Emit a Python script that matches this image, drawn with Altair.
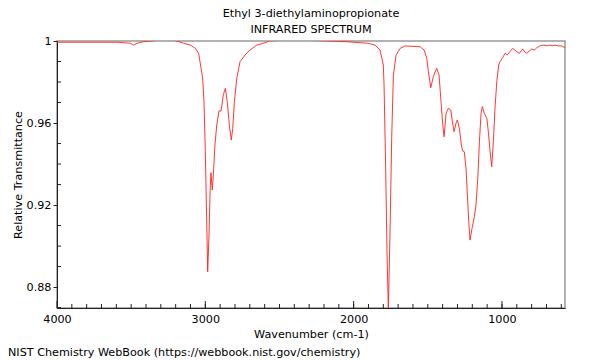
import altair as alt
import pandas as pd

# Spectrum values (wavenumber cm-1, relative transmittance)
wavenumber = [4000, 3865, 3730, 3595, 3506, 3483, 3461, 3415, 3348, 3303, 3236, 3191, 3146, 3101,
              3067, 3045, 3036, 3018, 3009, 3000, 2991, 2984, 2975, 2968, 2962, 2953, 2946, 2935,
              2923, 2908, 2894, 2879, 2865, 2852, 2838, 2825, 2815, 2804, 2788, 2766, 2732, 2699,
              2653, 2586, 2575, 2442, 2215, 2058, 1903, 1856, 1822, 1800, 1795, 1784, 1775, 1766,
              1755, 1743, 1732, 1714, 1687, 1653, 1552, 1525, 1507, 1496, 1480, 1463, 1440, 1424,
              1411, 1399, 1390, 1377, 1361, 1345, 1334, 1323, 1310, 1301, 1287, 1274, 1264, 1254,
              1242, 1233, 1224, 1215, 1202, 1186, 1175, 1163, 1152, 1141, 1132, 1119, 1102, 1092,
              1080, 1069, 1058, 1047, 1035, 1022, 1013, 995, 979, 964, 950, 927, 905, 883, 860,
              844, 832, 815, 799, 781, 765, 743, 721, 694, 676, 658, 642, 620, 597, 575]
transmittance = [0.9994, 0.9994, 0.9994, 0.9994, 0.9989, 0.9980, 0.9989, 0.9997, 1.0001, 1.0005,
                 1.0005, 1.0000, 0.9989, 0.9980, 0.9964, 0.9940, 0.9899, 0.9820, 0.9704, 0.9460,
                 0.9137, 0.8875, 0.9054, 0.9265, 0.9358, 0.9273, 0.9346, 0.9493, 0.9590, 0.9659,
                 0.9659, 0.9737, 0.9769, 0.9704, 0.9590, 0.9517, 0.9574, 0.9704, 0.9818, 0.9899,
                 0.9932, 0.9956, 0.9980, 0.9994, 1.0000, 1.0005, 1.0001, 0.9997, 0.9989, 0.9980,
                 0.9956, 0.9883, 0.9785, 0.9380, 0.8971, 0.8688, 0.9054, 0.9541, 0.9834, 0.9932,
                 0.9964, 0.9976, 0.9972, 0.9956, 0.9916, 0.9850, 0.9772, 0.9826, 0.9867, 0.9834,
                 0.9704, 0.9590, 0.9533, 0.9647, 0.9672, 0.9663, 0.9606, 0.9558, 0.9599, 0.9615,
                 0.9574, 0.9493, 0.9463, 0.9460, 0.9379, 0.9249, 0.9119, 0.9029, 0.9086, 0.9143,
                 0.9200, 0.9330, 0.9509, 0.9647, 0.9680, 0.9647, 0.9623, 0.9558, 0.9460, 0.9387,
                 0.9509, 0.9672, 0.9801, 0.9883, 0.9899, 0.9919, 0.9940, 0.9932, 0.9945, 0.9964,
                 0.9951, 0.9940, 0.9961, 0.9945, 0.9940, 0.9951, 0.9961, 0.9956, 0.9967, 0.9977,
                 0.9980, 0.9977, 0.9980, 0.9977, 0.9980, 0.9976, 0.9976, 0.9967]

x_major = [4000, 3000, 2000, 1000]
x_minor = list(range(3900, 575, -100))
y_major = [0.88, 0.92, 0.96, 1.0]
y_minor = [0.87, 0.89, 0.90, 0.91, 0.93, 0.94, 0.95, 0.97, 0.98, 0.99]

title_lines = ["Ethyl 3-diethylaminopropionate", "INFRARED SPECTRUM"]
x_title = "Wavenumber (cm-1)"
y_title = "Relative Transmittance"
footer = "NIST Chemistry WebBook (https://webbook.nist.gov/chemistry)"

X_DOMAIN = [4000, 575]
Y_DOMAIN = [0.8698, 1.0]
W, H = 508, 267
FONT = "DejaVu Sans"
FS = 11.2

spec = pd.DataFrame({"wn": wavenumber, "t": transmittance})
xs = alt.Scale(domain=X_DOMAIN, nice=False, zero=False)
ys = alt.Scale(domain=Y_DOMAIN, nice=False, zero=False)

line = alt.Chart(spec).mark_line(color="#ff2020", strokeWidth=0.9, clip=True).encode(
    x=alt.X("wn:Q", scale=xs, axis=alt.Axis(
        values=x_major, ticks=False, grid=False, title=x_title, labelPadding=5,
        labelFlush=False, labelOverlap=False,
        format="d", labelFontSize=FS, titleFontSize=FS, titleFontWeight="normal",
        titlePadding=4, domainColor="#222", labelColor="#000", titleColor="#000",
        labelFont=FONT, titleFont=FONT)),
    y=alt.Y("t:Q", scale=ys, axis=alt.Axis(
        values=y_major, grid=False, title=y_title, tickSize=4, tickColor="#222",
        labelFlush=False, labelOverlap=False,
        labelExpr="datum.value == 1 ? '1' : format(datum.value, '.2f')",
        labelPadding=2, labelFontSize=FS, titleFontSize=FS, titleFontWeight="normal",
        titlePadding=3, domainColor="#222", labelColor="#000", titleColor="#000",
        labelFont=FONT, titleFont=FONT)),
)

xmin_df = pd.DataFrame({"wn": x_minor})
xmaj_df = pd.DataFrame({"wn": x_major})
ymin_df = pd.DataFrame({"t": y_minor})

xminor_ticks = alt.Chart(xmin_df).mark_rule(color="#222", strokeWidth=1).encode(
    x=alt.X("wn:Q", scale=xs), y=alt.value(H), y2=alt.value(H - 4))
xmajor_ticks = alt.Chart(xmaj_df).mark_rule(color="#222", strokeWidth=1).encode(
    x=alt.X("wn:Q", scale=xs), y=alt.value(H), y2=alt.value(H - 7))
yminor_ticks = alt.Chart(ymin_df).mark_rule(color="#222", strokeWidth=1).encode(
    y=alt.Y("t:Q", scale=ys), x=alt.value(0), x2=alt.value(4))

foot = alt.Chart(pd.DataFrame({"s": [footer]})).mark_text(
    align="left", baseline="alphabetic", fontSize=FS, font=FONT, color="#000"
).encode(text="s:N", x=alt.value(-49), y=alt.value(315))

chart = alt.layer(line, xminor_ticks, xmajor_ticks, yminor_ticks, foot).properties(
    width=W, height=H,
    title=alt.TitleParams(text=title_lines, fontSize=FS, fontWeight="normal", font=FONT,
                          color="#000", lineHeight=16, offset=0, anchor="middle"),
    autosize=alt.AutoSizeParams(type="none"),
    padding={"left": 49, "top": 33, "right": 27, "bottom": 60},
).configure_view(stroke="#999", strokeWidth=1.5)

chart.save("out.html", embed_options={"renderer": "svg", "actions": False})
